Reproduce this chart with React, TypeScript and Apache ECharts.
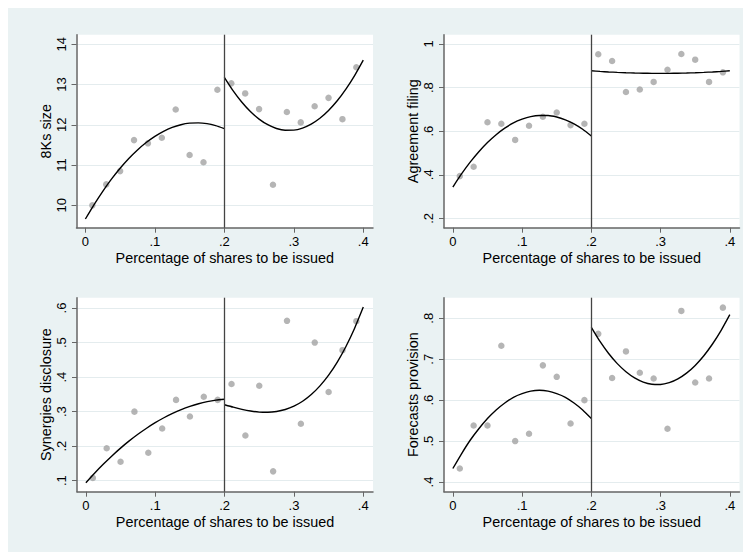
import React, { useEffect, useRef } from "react";
import * as echarts from "echarts";

// ---- data ----
const binX = [0.01, 0.03, 0.05, 0.07, 0.09, 0.11, 0.13, 0.15, 0.17, 0.19, 0.21, 0.23, 0.25, 0.27, 0.29, 0.31, 0.33, 0.35, 0.37, 0.39];
const fitXLeft = [0, 0.0125, 0.025, 0.0375, 0.05, 0.0625, 0.075, 0.0875, 0.1, 0.1125, 0.125, 0.1375, 0.15, 0.1625, 0.175, 0.1875, 0.2];
const fitXRight = [0.2, 0.2125, 0.225, 0.2375, 0.25, 0.2625, 0.275, 0.2875, 0.3, 0.3125, 0.325, 0.3375, 0.35, 0.3625, 0.375, 0.3875, 0.4];
const xTicks = [0, 0.1, 0.2, 0.3, 0.4];
const cutoff = 0.2;

const size8K = [10.0, 10.52, 10.85, 11.62, 11.54, 11.68, 12.38, 11.25, 11.07, 12.87, 13.03, 12.78, 12.39, 10.51, 12.32, 12.06, 12.46, 12.67, 12.14, 13.43];
const size8KFitL = [9.66, 10.019, 10.349, 10.649, 10.92, 11.163, 11.375, 11.559, 11.714, 11.839, 11.936, 12.003, 12.041, 12.049, 12.029, 11.979, 11.905];
const size8KFitR = [13.18, 12.849, 12.566, 12.33, 12.142, 12.002, 11.909, 11.865, 11.867, 11.918, 12.016, 12.162, 12.356, 12.597, 12.886, 13.223, 13.607];
const size8KTicks = [10, 11, 12, 13, 14];

const agreement = [0.394, 0.437, 0.641, 0.634, 0.56, 0.625, 0.666, 0.686, 0.628, 0.634, 0.953, 0.922, 0.78, 0.791, 0.826, 0.882, 0.954, 0.928, 0.826, 0.87];
const agreementFitL = [0.344, 0.404, 0.458, 0.506, 0.548, 0.584, 0.614, 0.638, 0.655, 0.667, 0.672, 0.672, 0.665, 0.652, 0.634, 0.609, 0.578];
const agreementFitR = [0.877, 0.8742, 0.8718, 0.8697, 0.868, 0.8667, 0.8658, 0.8652, 0.865, 0.8652, 0.8658, 0.8667, 0.868, 0.8697, 0.8718, 0.8742, 0.877];
const agreementTicks = [0.2, 0.4, 0.6, 0.8, 1];

const synergies = [0.108, 0.194, 0.155, 0.3, 0.181, 0.251, 0.334, 0.286, 0.343, 0.334, 0.38, 0.231, 0.375, 0.127, 0.563, 0.265, 0.5, 0.357, 0.478, 0.562];
const synergiesFitL = [0.094, 0.1216, 0.1474, 0.1717, 0.1943, 0.2152, 0.2344, 0.252, 0.268, 0.2823, 0.2949, 0.3059, 0.3152, 0.3229, 0.3289, 0.3333, 0.336];
const synergiesFitR = [0.32, 0.3129, 0.3067, 0.3018, 0.2987, 0.2981, 0.3004, 0.3061, 0.3159, 0.3302, 0.3496, 0.3747, 0.4058, 0.4437, 0.4888, 0.5417, 0.6028];
const synergiesTicks = [0.1, 0.2, 0.3, 0.4, 0.5, 0.6];

const forecasts = [0.433, 0.538, 0.538, 0.733, 0.5, 0.518, 0.685, 0.657, 0.543, 0.6, 0.762, 0.654, 0.719, 0.667, 0.653, 0.53, 0.818, 0.643, 0.653, 0.826];
const forecastsFitL = [0.433, 0.469, 0.502, 0.53, 0.555, 0.576, 0.593, 0.607, 0.616, 0.622, 0.624, 0.622, 0.616, 0.607, 0.593, 0.576, 0.555];
const forecastsFitR = [0.778, 0.7435, 0.714, 0.6892, 0.6694, 0.6544, 0.6442, 0.6389, 0.6384, 0.6427, 0.652, 0.666, 0.6849, 0.7086, 0.7372, 0.7706, 0.8089];
const forecastsTicks = [0.4, 0.5, 0.6, 0.7, 0.8];

const xTitle = "Percentage of shares to be issued";

const FONT = '"Liberation Sans", Arial, Helvetica, sans-serif';

function fmt(v: number): string {
  if (v === 0) return "0";
  let s = String(+v.toFixed(3));
  if (s.startsWith("0.")) s = s.slice(1);
  return s;
}

const panels = [
  { grid: { left: 68.5, top: 26.7, width: 296.5, height: 193 }, yMin: 9.444, yMax: 14.239, ticks: size8KTicks, name: "8Ks size", pts: size8K, fl: size8KFitL, fr: size8KFitR },
  { grid: { left: 436, top: 26.7, width: 295.5, height: 193 }, yMin: 0.1574, yMax: 1.0426, ticks: agreementTicks, name: "Agreement filing", pts: agreement, fl: agreementFitL, fr: agreementFitR },
  { grid: { left: 69, top: 289.7, width: 296, height: 194 }, yMin: 0.0681, yMax: 0.63, ticks: synergiesTicks, name: "Synergies disclosure", pts: synergies, fl: synergiesFitL, fr: synergiesFitR },
  { grid: { left: 436, top: 289.7, width: 295.5, height: 194 }, yMin: 0.3763, yMax: 0.8503, ticks: forecastsTicks, name: "Forecasts provision", pts: forecasts, fl: forecastsFitL, fr: forecastsFitR },
];

export default function App() {
  const ref = useRef<HTMLDivElement>(null);
  useEffect(() => {
    if (!ref.current) return;
    const chart = echarts.init(ref.current, undefined, { renderer: "svg" });
    const axisColor = "#666";
    const textStyle = { fontFamily: FONT, color: "#000" };
    const option: any = {
      animation: false,
      backgroundColor: "#eaf2f3",
      textStyle,
      grid: panels.map((p) => ({ ...p.grid, show: true, backgroundColor: "#ffffff", borderWidth: 0, containLabel: false })),
      xAxis: panels.map((p, i) => ({
        type: "value",
        gridIndex: i,
        min: -0.0128,
        max: 0.414,
        name: xTitle,
        nameLocation: "middle",
        nameGap: 23,
        nameTextStyle: { fontFamily: FONT, fontSize: 14.4, color: "#000" },
        axisLine: { show: true, onZero: false, lineStyle: { color: axisColor, width: 1.5 } },
        axisTick: { show: true, length: 5, customValues: xTicks, lineStyle: { color: axisColor, width: 1 } },
        axisLabel: { customValues: xTicks, formatter: fmt, margin: 7, fontFamily: FONT, fontSize: 13, color: "#000" },
        splitLine: { show: false },
      })),
      yAxis: panels.map((p, i) => ({
        type: "value",
        gridIndex: i,
        min: p.yMin,
        max: p.yMax,
        name: p.name,
        nameLocation: "middle",
        nameRotate: 90,
        nameGap: 24,
        nameTextStyle: { fontFamily: FONT, fontSize: 14.4, color: "#000" },
        axisLine: { show: true, onZero: false, lineStyle: { color: axisColor, width: 1.5 } },
        axisTick: { show: true, length: 5, customValues: p.ticks, lineStyle: { color: axisColor, width: 1 } },
        axisLabel: { customValues: p.ticks, formatter: fmt, rotate: 90, margin: 9, fontFamily: FONT, fontSize: 13, color: "#000" },
        splitLine: { show: true, lineStyle: { color: "#e4ecee", width: 1 } },
      })),
      series: panels.flatMap((p, i) => [
        {
          type: "scatter",
          xAxisIndex: i,
          yAxisIndex: i,
          symbol: "circle",
          symbolSize: 6.5,
          itemStyle: { color: "#a3a3a3" },
          data: binX.map((x, k) => [x, p.pts[k]]),
          markLine: {
            silent: true,
            symbol: "none",
            label: { show: false },
            lineStyle: { color: "#444", width: 1.3, type: "solid" },
            data: [{ xAxis: cutoff }],
          },
          z: 3,
        },
        {
          type: "line",
          xAxisIndex: i,
          yAxisIndex: i,
          smooth: 0.2,
          showSymbol: false,
          lineStyle: { color: "#000", width: 1.4 },
          data: fitXLeft.map((x, k) => [x, p.fl[k]]),
          z: 4,
        },
        {
          type: "line",
          xAxisIndex: i,
          yAxisIndex: i,
          smooth: 0.2,
          showSymbol: false,
          lineStyle: { color: "#000", width: 1.4 },
          data: fitXRight.map((x, k) => [x, p.fr[k]]),
          z: 4,
        },
      ]),
    };
    chart.setOption(option);
    return () => chart.dispose();
  }, []);
  return <div ref={ref} style={{ width: 743, height: 544 }} />;
}
